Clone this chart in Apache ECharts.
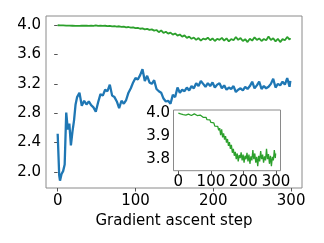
<!DOCTYPE html>
<html>
<head>
<meta charset="utf-8">
<script src="https://cdn.jsdelivr.net/npm/echarts@6/dist/echarts.min.js"></script>
<style>html,body{margin:0;padding:0;background:#fff}#c{width:324px;height:243px}</style>
</head>
<body>
<div id="c"></div>
<script>
const steps = [0,2,3,5,7,9,11,13,15,17,19,21,23,25,
  28,31,34,37,40,43,46,49,52,55,58,61,64,67,70,73,76,79,82,85,88,91,94,97,
  100,103,106,109,112,115,118,121,124,127,130,133,136,139,142,145,148,151,154,157,
  160,163,166,169,172,175,178,181,184,187,190,193,196,199,202,205,208,211,214,217,
  220,223,226,229,232,235,238,241,244,247,250,253,256,259,262,265,268,271,274,277,
  280,283,286,289,292,295,298,299];
const blueVals = [2.52,1.95,1.88,1.97,2.01,2.10,2.81,2.58,2.66,2.36,2.55,2.70,2.92,3.02,
  3.08,2.90,2.97,2.92,2.96,2.91,2.88,2.82,2.95,3.06,3.04,3.12,3.10,3.19,3.04,3.02,2.96,2.87,2.97,2.93,2.98,3.08,3.14,3.22,
  3.28,3.26,3.32,3.40,3.24,3.31,3.22,3.20,3.25,3.13,3.10,3.08,3.00,2.96,2.97,2.93,3.05,3.02,3.15,3.08,
  3.12,3.10,3.15,3.11,3.17,3.14,3.21,3.17,3.24,3.20,3.16,3.21,3.17,3.22,3.15,3.19,3.21,3.14,3.18,3.12,
  3.15,3.13,3.17,3.09,3.12,3.14,3.11,3.16,3.13,3.17,3.23,3.14,3.18,3.23,3.13,3.17,3.14,3.16,3.20,3.27,
  3.15,3.20,3.18,3.23,3.19,3.28,3.16,3.24];
const greenVals = [4.000,4.000,3.998,4.000,3.997,3.999,3.996,3.998,3.994,3.997,3.993,3.996,3.992,3.995,
  3.991,3.996,3.993,3.996,3.990,3.995,3.992,3.997,3.991,3.994,3.990,3.993,3.987,3.992,3.985,3.989,3.982,3.986,3.978,3.982,3.972,3.976,3.966,3.971,
  3.960,3.965,3.952,3.958,3.944,3.950,3.936,3.943,3.926,3.935,3.905,3.930,3.895,3.912,3.885,3.900,3.872,3.888,3.858,3.874,
  3.845,3.862,3.828,3.845,3.815,3.832,3.800,3.825,3.790,3.818,3.805,3.830,3.795,3.820,3.785,3.815,3.800,3.828,3.790,3.820,
  3.780,3.812,3.795,3.840,3.800,3.825,3.785,3.810,3.770,3.815,3.790,3.835,3.800,3.820,3.785,3.812,3.795,3.845,3.800,3.822,
  3.780,3.815,3.770,3.810,3.795,3.840,3.805,3.825];
const xTicks = [0,100,200,300];
const yTicksMain = [2.0,2.4,2.8,3.2,3.6,4.0];
const yTicksInset = [3.8,3.9,4.0];
const xLabel = 'Gradient ascent step';

const blueData = steps.map((s,i)=>[s, blueVals[i]]);
const greenData = steps.map((s,i)=>[s, greenVals[i]]);

const frame = '#8a8a8a';
const font = 'DejaVu Sans';
function xAx(gi, margin, name){
  return {
    type:'value', gridIndex:gi, min:-15, max:314,
    axisLine:{show:false},
    splitLine:{show:false},
    axisTick:{show:true, length:3.5, customValues:xTicks, lineStyle:{color:'#555', width:1}},
    axisLabel:{customValues:xTicks, interval:0, margin:margin, color:'#000', fontSize:15, fontFamily:font,
      formatter:v=>String(v)},
    name:name||'', nameLocation:'middle', nameGap:18,
    nameTextStyle:{color:'#000', fontSize:15, fontFamily:font}
  };
}
function yAx(gi, min, max, ticks, margin){
  return {
    type:'value', gridIndex:gi, min:min, max:max,
    axisLine:{show:false},
    splitLine:{show:false},
    axisTick:{show:true, length:3.5, customValues:ticks, lineStyle:{color:'#555', width:1}},
    axisLabel:{customValues:ticks, margin:margin, color:'#000', fontSize:15, fontFamily:font,
      formatter:v=>v.toFixed(1)}
  };
}
const chart = echarts.init(document.getElementById('c'), null, {renderer:'canvas'});
chart.setOption({
  animation:false,
  backgroundColor:'#fff',
  grid:[
    {left:46, top:16, width:256, height:172, show:true, borderColor:frame, borderWidth:1, backgroundColor:'#fff'},
    {left:173.5, top:110, width:107, height:60.7, show:true, borderColor:frame, borderWidth:1, backgroundColor:'#fff', z:5}
  ],
  xAxis:[xAx(0,6,xLabel), xAx(1,3.5)],
  yAxis:[yAx(0,1.78,4.126,yTicksMain,5), yAx(1,3.75,4.014,yTicksInset,3.5)],
  series:[
    {type:'line', xAxisIndex:0, yAxisIndex:0, data:blueData, showSymbol:false, lineStyle:{color:'#1f77b4', width:2.3}, z:2},
    {type:'line', xAxisIndex:0, yAxisIndex:0, data:greenData, showSymbol:false, lineStyle:{color:'#2ca02c', width:1.8}, z:2},
    {type:'line', xAxisIndex:1, yAxisIndex:1, data:greenData, showSymbol:false, lineStyle:{color:'#2ca02c', width:1.3}, z:6}
  ]
});
</script>
</body>
</html>
